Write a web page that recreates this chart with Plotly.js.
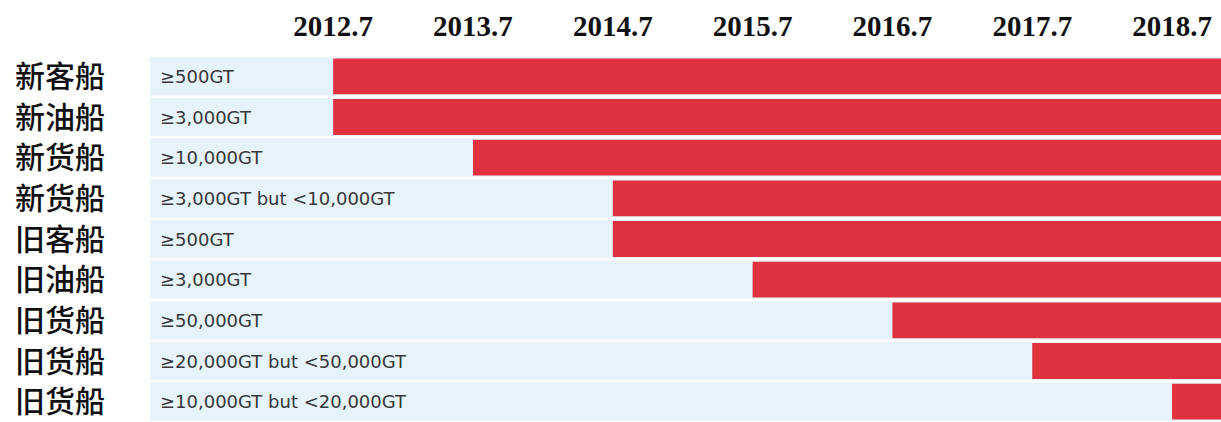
<!DOCTYPE html>
<html>
<head>
<meta charset="utf-8">
<script src="https://cdn.plot.ly/plotly-3.0.1.min.js"></script>
<style>html,body{margin:0;padding:0;background:#fff;}#chart{width:1221px;height:422px;}</style>
</head>
<body>
<div id="chart"></div>
<script>
// Data
const shipTypes = ["新客船","新油船","新货船","新货船","旧客船","旧油船","旧货船","旧货船","旧货船"];
const tonnage = ["≥500GT","≥3,000GT","≥10,000GT","≥3,000GT but <10,000GT","≥500GT","≥3,000GT","≥50,000GT","≥20,000GT but <50,000GT","≥10,000GT but <20,000GT"];
const startDates = [2012.7, 2012.7, 2013.7, 2014.7, 2014.7, 2015.7, 2016.7, 2017.7, 2018.7];
const tickDates = [2012.7, 2013.7, 2014.7, 2015.7, 2016.7, 2017.7, 2018.7];
const tickLabels = ["2012.7","2013.7","2014.7","2015.7","2016.7","2017.7","2018.7"];

const xMin = 2011.39, xMax = 2019.05;
const rows = shipTypes.map((_, i) => i);

const bg = {
  type: 'bar', orientation: 'h',
  y: rows,
  base: rows.map(() => xMin),
  x: rows.map(() => xMax - xMin),
  width: 0.94,
  marker: {color: '#e7f3fa', line: {width: 0}},
  hoverinfo: 'skip', showlegend: false
};
const red = {
  type: 'bar', orientation: 'h',
  y: rows,
  base: startDates,
  x: startDates.map(s => xMax - s),
  width: 0.88,
  marker: {color: '#e0313e', line: {width: 0}},
  hoverinfo: 'skip', showlegend: false
};

const annotations = tonnage.map((t, i) => ({
  x: xMin, y: i, xref: 'x', yref: 'y',
  text: t, showarrow: false, xanchor: 'left', yanchor: 'middle', xshift: 8,
  font: {family: 'DejaVu Sans, sans-serif', size: 18, color: '#383838'}
}));

const layout = {
  width: 1221, height: 422,
  margin: {l: 150, r: 0, t: 56, b: 0, pad: 0},
  paper_bgcolor: '#fff', plot_bgcolor: '#fff',
  barmode: 'overlay',
  xaxis: {
    side: 'top', range: [xMin, xMax],
    tickvals: tickDates, ticktext: tickLabels,
    ticks: 'outside', ticklen: 7, tickcolor: 'rgba(0,0,0,0)',
    showgrid: false, zeroline: false, showline: false,
    tickfont: {family: 'Liberation Serif, serif', size: 29, color: '#111', weight: 'bold'}
  },
  yaxis: {
    range: [8.5, -0.5], automargin: false,
    tickvals: rows, ticktext: shipTypes,
    ticks: 'outside', ticklen: 38, tickcolor: 'rgba(0,0,0,0)',
    showgrid: false, zeroline: false, showline: false,
    tickfont: {family: 'Noto Sans CJK SC, sans-serif', size: 30, color: '#111', weight: 500}
  },
  annotations: annotations
};

Plotly.newPlot('chart', [bg, red], layout, {displayModeBar: false, staticPlot: true});
</script>
</body>
</html>
